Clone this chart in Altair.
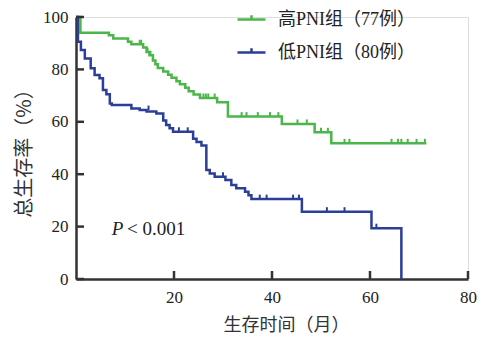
import altair as alt
import pandas as pd

# ---- data ----
groups = ["高PNI组（77例）", "低PNI组（80例）"]
colors = ["#4bb649", "#2b3f98"]

green_t = [0, 0.9, 6.7, 7.6, 10.6, 11.3, 13.7, 14.4, 15.0, 15.7, 16.2, 16.7, 17.8, 18.8, 19.5,
           20.5, 21.2, 22.3, 23.0, 24.0, 25.3, 28.8, 31.0, 42.0, 48.7, 52.1, 71.5]
green_s = [100, 94, 93, 91.8, 90.6, 89.6, 88.4, 86.6, 85.4, 83.4, 82, 80.5, 79.2, 78, 76.8,
           75.5, 74.3, 73, 71.7, 70.4, 69.1, 67.5, 62, 59.2, 56, 51.8, 51.8]
green_cens_t = [13.0, 13.3, 14.6, 15.2, 26.0, 26.5, 27.0, 28.3, 33.8, 34.8, 37.1, 39.6, 41.3,
                45.2, 47.1, 50.0, 51.4, 54.8, 55.8, 64.4, 65.7, 66.4, 67.7, 69.5, 71.2]
green_cens_s = [89.6, 89.6, 86.6, 85.4, 69.1, 69.1, 69.1, 69.1, 62, 62, 62, 62, 62,
                59.2, 59.2, 56, 56, 51.8, 51.8, 51.8, 51.8, 51.8, 51.8, 51.8, 51.8]

blue_t = [0, 0.4, 1.0, 1.8, 3.0, 3.8, 4.8, 5.5, 6.2, 6.9, 7.3, 11.3, 13.0, 14.4, 16.4, 17.8,
          18.4, 19.1, 19.8, 23.9, 24.6, 25.6, 26.6, 27.3, 28.3, 30.5, 31.7, 32.7, 34.5, 35.2,
          35.8, 46.1, 60.3, 66.4]
blue_s = [100, 90.6, 87.4, 84.2, 80.4, 77.9, 76.6, 72.1, 70.5, 67, 66.4, 65.1, 64.5, 63.9, 63.2,
          60.5, 58.8, 57.5, 56.2, 53.5, 52.3, 51, 41.6, 40.3, 39, 37.8, 35.9, 34.6, 33.3, 32,
          30.5, 25.7, 19.4, 0]
blue_cens_t = [14.8, 21.0, 22.8, 30.0, 37.5, 38.9, 44.3, 45.5, 51.2, 54.8, 61.3]
blue_cens_s = [64.5, 56.2, 56.2, 39, 30.5, 30.5, 30.5, 30.5, 25.7, 25.7, 19.4]

x_ticks = [20, 40, 60, 80]
y_ticks = [0, 20, 40, 60, 80, 100]

W, H = 392, 262
serif = "Liberation Serif, Noto Sans CJK SC"
cjk = "Noto Sans CJK SC"
axis_color = "#333333"

curve_g = pd.DataFrame({"t": green_t, "s": green_s, "g": groups[0]})
curve_b = pd.DataFrame({"t": blue_t, "s": blue_s, "g": groups[1]})
cens_g = pd.DataFrame({"t": green_cens_t, "s": green_cens_s, "g": groups[0]})
cens_b = pd.DataFrame({"t": blue_cens_t, "s": blue_cens_s, "g": groups[1]})

xs = alt.Scale(domain=[0, 80], nice=False)
ys = alt.Scale(domain=[0, 100], nice=False)
cs = alt.Scale(domain=groups, range=colors)

x_axis = alt.Axis(values=x_ticks, ticks=False, tickSize=0, grid=False, domainColor=axis_color,
                  domainWidth=2.5, labelFont=serif, labelFontSize=17, labelColor="#222",
                  labelFlush=False, labelPadding=10, title="生存时间（月）", titleFont=cjk,
                  titleFontSize=18, titleFontWeight="normal", titleColor="#333", titlePadding=11,
                  titleX=210)
y_axis = alt.Axis(values=y_ticks, ticks=False, tickSize=0, grid=False, domainColor=axis_color,
                  domainWidth=2.5, labelFont=serif, labelFontSize=17, labelColor="#222",
                  labelFlush=False, labelPadding=8, title="总生存率（%）", titleFont=cjk,
                  titleFontSize=20, titleFontWeight="normal", titleColor="#333", titlePadding=8)

legend = alt.Legend(title=None, orient="none", legendX=160, legendY=-13,
                    symbolType="M-1,0L1,0M0,0L0,-0.3", symbolSize=784, symbolStrokeWidth=2.5,
                    labelFont=serif, labelFontSize=18, labelColor="#222", labelOffset=11,
                    rowPadding=8, padding=0)

def curve(df):
    return alt.Chart(df).mark_line(interpolate="step-after", strokeWidth=2.5).encode(
        x=alt.X("t:Q", scale=xs, axis=x_axis),
        y=alt.Y("s:Q", scale=ys, axis=y_axis),
        color=alt.Color("g:N", scale=cs, legend=legend),
    )

def cens(df):
    return alt.Chart(df).transform_calculate(s2="datum.s + 1.7").mark_rule(strokeWidth=2).encode(
        x="t:Q", y="s:Q", y2="s2:Q",
        color=alt.Color("g:N", scale=cs, legend=None),
    )

ytick_df = pd.DataFrame({"v": y_ticks})
xtick_df = pd.DataFrame({"v": x_ticks})
yticks = alt.Chart(ytick_df).mark_rule(color=axis_color, strokeWidth=2.5).encode(
    y="v:Q", x=alt.value(0), x2=alt.value(8))
xticks = alt.Chart(xtick_df).mark_rule(color=axis_color, strokeWidth=2.5).encode(
    x="v:Q", y=alt.value(H), y2=alt.value(H - 8))

p_pos = pd.DataFrame({"t": [7.3], "s": [19], "t2": [10.4]})
p_it = alt.Chart(p_pos).mark_text(text="P", font="Liberation Serif", fontStyle="italic",
                                  fontSize=19, align="left", baseline="middle", color="#222").encode(
    x="t:Q", y="s:Q")
p_rest = alt.Chart(p_pos).mark_text(text="< 0.001", font="Liberation Serif",
                                    fontSize=19, align="left", baseline="middle", color="#222").encode(
    x="t2:Q", y="s:Q")

chart = alt.layer(
    curve(curve_g), cens(cens_g), curve(curve_b), cens(cens_b), yticks, xticks, p_it, p_rest
).properties(
    width=W, height=H,
    autosize=alt.AutoSizeParams(type="none"),
    padding={"left": 76, "top": 17, "right": 18, "bottom": 67},
).configure_view(stroke=None).configure(background="white")

chart.save("out.html", embed_options={"renderer": "svg", "actions": False})
